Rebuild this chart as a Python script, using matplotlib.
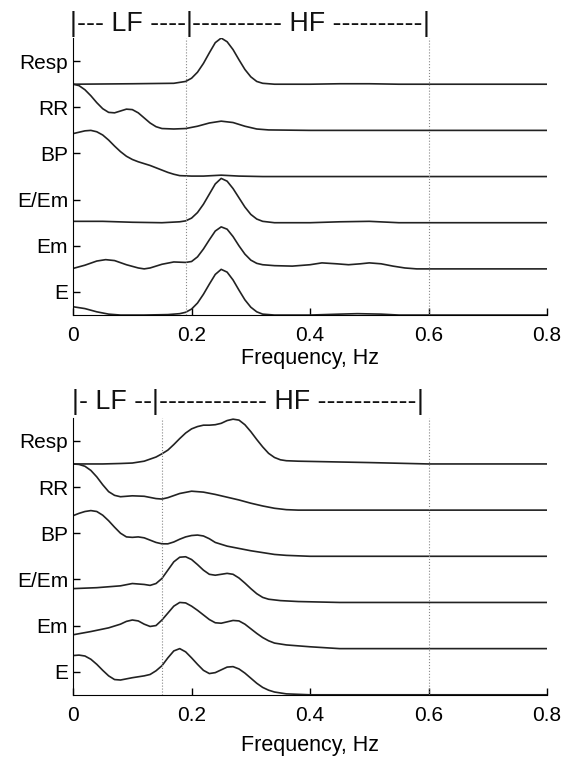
import matplotlib
matplotlib.use("Agg")
import matplotlib.pyplot as plt

plt.rcParams['font.family'] = ['Liberation Sans', 'DejaVu Sans']

labels = ['E', 'Em', 'E/Em', 'BP', 'RR', 'Resp']
xticks = [0, 0.2, 0.4, 0.6, 0.8]
xticklabels = ['0', '0.2', '0.4', '0.6', '0.8']

# ---- top panel (normalised spectra)
top_resp_f = [0, 0.10, 0.17, 0.19, 0.20, 0.21, 0.22, 0.23, 0.24, 0.25, 0.26, 0.27, 0.28, 0.29, 0.30, 0.31, 0.32, 0.34, 0.40, 0.45, 0.50, 0.55, 0.8]
top_resp_p = [0, 0.01, 0.02, 0.06, 0.13, 0.26, 0.45, 0.68, 0.90, 1.0, 0.92, 0.75, 0.53, 0.32, 0.16, 0.06, 0.02, 0.0, 0.0, 0.01, 0.01, 0.0, 0.0]

top_rr_f = [0, 0.01, 0.02, 0.03, 0.04, 0.05, 0.06, 0.07, 0.08, 0.09, 0.10, 0.11, 0.12, 0.13, 0.14, 0.15, 0.17, 0.19, 0.21, 0.23, 0.25, 0.27, 0.29, 0.31, 0.33, 0.4, 0.8]
top_rr_p = [1.0, 0.97, 0.88, 0.75, 0.6, 0.47, 0.39, 0.38, 0.42, 0.46, 0.45, 0.38, 0.27, 0.16, 0.08, 0.04, 0.03, 0.04, 0.09, 0.16, 0.20, 0.17, 0.09, 0.03, 0.01, 0, 0]

top_bp_f = [0, 0.01, 0.02, 0.03, 0.04, 0.05, 0.06, 0.07, 0.08, 0.09, 0.10, 0.11, 0.12, 0.13, 0.14, 0.15, 0.16, 0.17, 0.18, 0.2, 0.22, 0.25, 0.28, 0.32, 0.8]
top_bp_p = [0.93, 0.96, 0.99, 1.0, 0.97, 0.9, 0.79, 0.66, 0.54, 0.44, 0.37, 0.32, 0.28, 0.24, 0.19, 0.14, 0.09, 0.05, 0.02, 0.01, 0.01, 0.03, 0.01, 0, 0]

top_eem_f = [0, 0.05, 0.1, 0.15, 0.18, 0.19, 0.20, 0.21, 0.22, 0.23, 0.24, 0.25, 0.26, 0.27, 0.28, 0.29, 0.30, 0.31, 0.32, 0.34, 0.4, 0.45, 0.5, 0.55, 0.8]
top_eem_p = [0.03, 0.03, 0.01, 0.0, 0.02, 0.04, 0.1, 0.22, 0.4, 0.62, 0.84, 0.96, 0.9, 0.74, 0.54, 0.34, 0.18, 0.08, 0.03, 0.0, 0.0, 0.02, 0.03, 0.0, 0.0]

top_em_f = [0, 0.02, 0.04, 0.055, 0.07, 0.09, 0.11, 0.12, 0.13, 0.15, 0.17, 0.19, 0.20, 0.21, 0.22, 0.23, 0.24, 0.25, 0.26, 0.27, 0.28, 0.29, 0.30, 0.31, 0.32, 0.34, 0.37, 0.40, 0.42, 0.445, 0.465, 0.485, 0.50, 0.52, 0.54, 0.56, 0.58, 0.8]
top_em_p = [0.01, 0.08, 0.17, 0.2, 0.18, 0.09, 0.02, 0.0, 0.02, 0.1, 0.15, 0.14, 0.16, 0.26, 0.43, 0.63, 0.82, 0.91, 0.86, 0.7, 0.5, 0.32, 0.19, 0.12, 0.09, 0.07, 0.06, 0.09, 0.13, 0.11, 0.09, 0.11, 0.13, 0.11, 0.06, 0.02, 0.0, 0.0]

top_e_f = [0, 0.02, 0.04, 0.06, 0.08, 0.12, 0.16, 0.18, 0.19, 0.20, 0.21, 0.22, 0.23, 0.24, 0.25, 0.26, 0.27, 0.28, 0.29, 0.30, 0.31, 0.32, 0.34, 0.4, 0.45, 0.48, 0.52, 0.55, 0.8]
top_e_p = [0.18, 0.14, 0.07, 0.02, 0.0, 0.0, 0.01, 0.03, 0.06, 0.13, 0.26, 0.45, 0.67, 0.88, 0.99, 0.93, 0.76, 0.54, 0.33, 0.17, 0.07, 0.02, 0.0, 0.0, 0.02, 0.03, 0.02, 0.0, 0.0]

# ---- bottom panel
bot_resp_f = [0, 0.05, 0.08, 0.10, 0.12, 0.14, 0.15, 0.16, 0.17, 0.18, 0.19, 0.20, 0.21, 0.22, 0.23, 0.24, 0.25, 0.26, 0.27, 0.28, 0.29, 0.30, 0.31, 0.32, 0.33, 0.34, 0.35, 0.36, 0.38, 0.42, 0.5, 0.6, 0.8]
bot_resp_p = [0, 0.0, 0.01, 0.02, 0.06, 0.15, 0.22, 0.3, 0.42, 0.55, 0.67, 0.76, 0.81, 0.84, 0.84, 0.85, 0.88, 0.94, 0.97, 0.95, 0.85, 0.7, 0.53, 0.37, 0.23, 0.14, 0.09, 0.07, 0.06, 0.05, 0.03, 0.0, 0.0]

bot_rr_f = [0, 0.01, 0.02, 0.03, 0.04, 0.05, 0.06, 0.07, 0.08, 0.10, 0.12, 0.14, 0.15, 0.16, 0.18, 0.20, 0.22, 0.24, 0.26, 0.28, 0.30, 0.32, 0.34, 0.36, 0.38, 0.8]
bot_rr_p = [1.0, 0.99, 0.95, 0.86, 0.72, 0.55, 0.4, 0.32, 0.29, 0.31, 0.3, 0.25, 0.24, 0.27, 0.36, 0.41, 0.39, 0.34, 0.28, 0.22, 0.15, 0.09, 0.04, 0.01, 0.0, 0.0]

bot_bp_f = [0, 0.01, 0.02, 0.03, 0.04, 0.05, 0.06, 0.07, 0.08, 0.09, 0.10, 0.11, 0.12, 0.13, 0.14, 0.15, 0.16, 0.17, 0.18, 0.19, 0.20, 0.21, 0.22, 0.23, 0.24, 0.26, 0.28, 0.30, 0.32, 0.34, 0.36, 0.40, 0.8]
bot_bp_p = [0.88, 0.93, 0.97, 0.99, 0.97, 0.89, 0.77, 0.63, 0.5, 0.42, 0.41, 0.42, 0.4, 0.35, 0.3, 0.27, 0.27, 0.31, 0.37, 0.42, 0.45, 0.46, 0.44, 0.38, 0.3, 0.22, 0.17, 0.12, 0.08, 0.04, 0.02, 0.0, 0.0]

bot_eem_f = [0, 0.04, 0.08, 0.10, 0.12, 0.13, 0.14, 0.15, 0.16, 0.17, 0.18, 0.19, 0.20, 0.21, 0.22, 0.23, 0.24, 0.25, 0.26, 0.27, 0.28, 0.29, 0.30, 0.31, 0.32, 0.33, 0.35, 0.38, 0.45, 0.8]
bot_eem_p = [0.30, 0.32, 0.36, 0.41, 0.39, 0.37, 0.41, 0.52, 0.7, 0.88, 0.98, 0.99, 0.93, 0.82, 0.7, 0.61, 0.59, 0.61, 0.63, 0.61, 0.53, 0.42, 0.3, 0.19, 0.11, 0.07, 0.04, 0.02, 0.0, 0.0]

bot_em_f = [0, 0.03, 0.06, 0.08, 0.09, 0.10, 0.11, 0.12, 0.13, 0.14, 0.15, 0.16, 0.17, 0.18, 0.19, 0.20, 0.21, 0.22, 0.23, 0.24, 0.25, 0.26, 0.27, 0.28, 0.29, 0.30, 0.31, 0.32, 0.33, 0.34, 0.36, 0.40, 0.45, 0.8]
bot_em_p = [0.30, 0.37, 0.45, 0.53, 0.59, 0.62, 0.6, 0.53, 0.48, 0.5, 0.62, 0.77, 0.92, 1.0, 0.99, 0.92, 0.83, 0.73, 0.63, 0.56, 0.55, 0.58, 0.61, 0.6, 0.53, 0.43, 0.33, 0.24, 0.17, 0.12, 0.08, 0.04, 0.0, 0.0]

bot_e_f = [0, 0.01, 0.02, 0.03, 0.04, 0.05, 0.06, 0.07, 0.08, 0.10, 0.12, 0.13, 0.14, 0.15, 0.16, 0.17, 0.18, 0.19, 0.20, 0.21, 0.22, 0.23, 0.24, 0.25, 0.26, 0.27, 0.28, 0.29, 0.30, 0.31, 0.32, 0.33, 0.34, 0.36, 0.40, 0.8]
bot_e_p = [0.85, 0.86, 0.84, 0.77, 0.66, 0.53, 0.41, 0.33, 0.32, 0.37, 0.41, 0.44, 0.52, 0.63, 0.8, 0.95, 1.0, 0.93, 0.8, 0.66, 0.53, 0.46, 0.48, 0.54, 0.6, 0.61, 0.56, 0.47, 0.36, 0.25, 0.16, 0.1, 0.06, 0.02, 0.0, 0.0]

top_series = [(top_e_f, top_e_p), (top_em_f, top_em_p), (top_eem_f, top_eem_p),
              (top_bp_f, top_bp_p), (top_rr_f, top_rr_p), (top_resp_f, top_resp_p)]
bot_series = [(bot_e_f, bot_e_p), (bot_em_f, bot_em_p), (bot_eem_f, bot_eem_p),
              (bot_bp_f, bot_bp_p), (bot_rr_f, bot_rr_p), (bot_resp_f, bot_resp_p)]

top_bands = [0.19, 0.6]
bot_bands = [0.15, 0.6]
# band header: bar positions and the dashed texts between them
top_bars = [0.0, 0.196, 0.595]
top_segs = ['--- LF ----', '---------- HF ----------']
bot_bars = [0.004, 0.139, 0.586]
bot_segs = ['- LF --', '------------ HF -----------']

fig = plt.figure(figsize=(5.71, 7.61), dpi=100)
ax1 = fig.add_axes([0.128, 0.586, 0.830, 0.364])
ax2 = fig.add_axes([0.128, 0.087, 0.830, 0.364])


def draw_panel(ax, series, bands, bars, segs, hy, lpad):
    for i, (f, p) in enumerate(series):
        ax.plot(f, [v + i for v in p], color='#222222', linewidth=1.2)
    for b in bands:
        ax.axvline(b, color='#888888', linestyle=':', linewidth=0.8)
    ax.set_xlim(0, 0.8)
    ax.set_ylim(0, 6)
    ax.set_xticks(xticks)
    ax.set_xticklabels(xticklabels)
    ax.set_yticks([i + 0.5 for i in range(len(labels))])
    ax.set_yticklabels(labels)
    ax.tick_params(direction='in', labelsize=15, length=5, width=1)
    ax.tick_params(axis='x', pad=8)
    ax.spines['top'].set_visible(False)
    ax.spines['right'].set_visible(False)
    ax.set_xlabel('Frequency, Hz', fontsize=15.5, labelpad=lpad)
    tr = ax.get_xaxis_transform()
    for b in bars:
        ax.text(b, hy, '|', transform=tr, ha='center', va='center',
                fontsize=19.3, color='#111111', clip_on=False)
    for k, s in enumerate(segs):
        ax.text((bars[k] + bars[k + 1]) / 2, hy, s, transform=tr, ha='center',
                va='center', fontsize=19.3, color='#111111', clip_on=False)


draw_panel(ax1, top_series, top_bands, top_bars, top_segs, 1.05, 2)
draw_panel(ax2, bot_series, bot_bands, bot_bars, bot_segs, 1.058, 7)

fig.savefig('out.png', dpi=100)
